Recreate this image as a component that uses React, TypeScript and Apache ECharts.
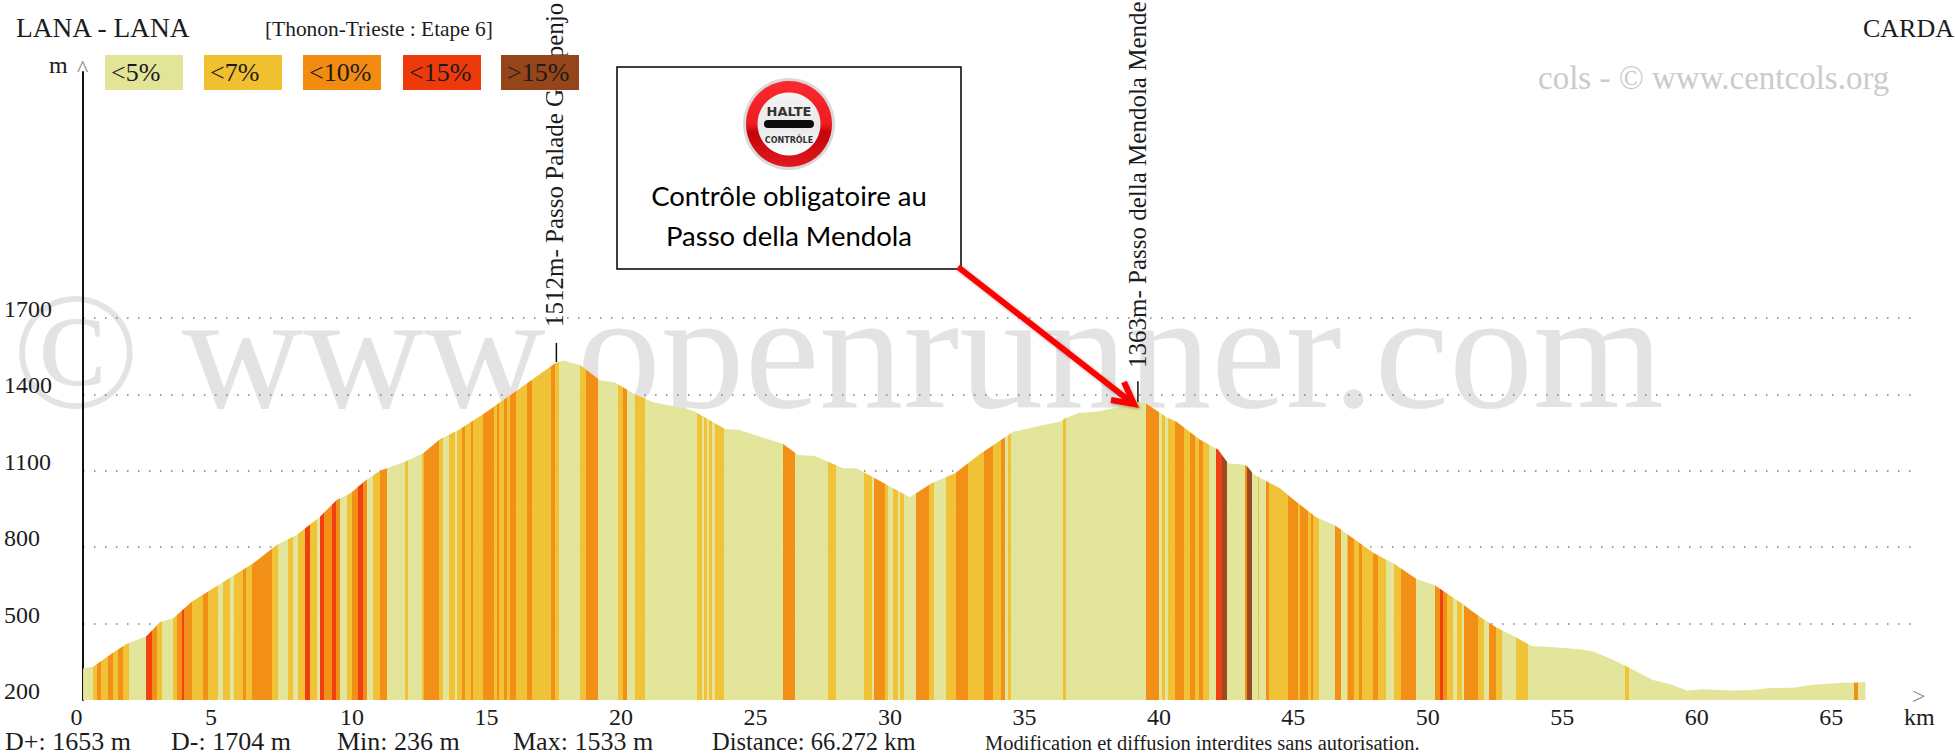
import React, { useEffect, useRef } from "react";
import * as echarts from "echarts";

const distanceKm = [0,0.38,1.07,1.62,2.37,2.86,3.36,4.04,4.84,6.33,7.2,7.94,8.81,9.43,9.93,10.48,11.04,11.97,12.65,13.27,14.01,15.01,16.25,17.55,17.85,18.48,19.22,19.78,20.46,21.2,22.19,22.69,23.87,24.42,26.03,26.59,27.21,28.26,28.76,30.74,31.55,32.42,33.35,34.21,34.58,35.58,36.32,36.51,37.06,37.68,38.55,39.23,39.48,40.29,40.66,41.52,42.2,42.58,42.95,43.26,43.51,44.5,44.99,45.86,46.54,47.1,47.97,48.77,49.58,50.26,51.25,51.93,52.55,53.23,53.85,54.41,55.65,56.14,56.76,57.38,58.37,58.99,59.62,60.23,61.22,62.09,62.71,63.58,64.32,65.44,65.94,66.27];
const elevationM = [324,331,383,420,451,506,521,586,639,737,809,848,920,985,1011,1060,1100,1136,1169,1224,1263,1332,1424,1522,1533,1515,1456,1447,1404,1369,1349,1336,1264,1260,1205,1162,1158,1110,1110,996,1051,1090,1166,1227,1253,1277,1293,1306,1328,1332,1351,1371,1367,1310,1293,1223,1184,1129,1127,1121,1087,1031,988,917,886,844,778,733,675,651,580,527,485,449,412,409,399,390,364,333,279,263,237,242,237,239,247,248,260,268,269,271];

// Start of each gradient stripe (km) and its class (index in gradeLabels)
const stripeStarts = [0,0.38,0.53,0.69,0.94,1.13,1.31,1.5,1.69,2.34,2.55,2.74,2.92,3.33,3.48,3.67,3.77,4.04,4.45,4.66,5.03,5.19,5.46,5.61,5.96,6.08,6.27,7.01,7.26,7.63,7.82,8,8.25,8.44,8.71,8.81,8.97,9.24,9.41,9.55,9.8,9.99,10.24,10.42,10.55,10.79,11.04,11.29,11.97,12.09,12.59,12.68,13.25,13.39,13.6,13.83,13.91,14.08,14.22,14.41,14.49,14.88,15.28,15.4,15.48,15.65,15.77,15.87,16.1,16.52,16.68,17.38,17.55,17.69,18.47,18.7,19.16,19.9,20.09,20.21,20.52,20.89,22.81,23.02,23.08,23.21,23.28,23.39,23.49,23.83,26.01,26.47,27.7,28.01,29.03,29.32,29.41,29.81,29.92,30.12,30.31,30.37,30.52,30.96,31.46,31.63,32.1,32.44,32.91,33.5,33.82,34.13,34.28,34.4,34.5,36.42,36.55,39.52,40.02,40.1,40.23,40.35,40.6,40.93,41.16,41.34,41.49,41.63,41.85,42.12,42.33,42.52,43.2,43.29,43.45,43.67,43.73,43.98,44.11,44.81,45.18,45.24,45.55,45.64,45.74,45.96,46.54,46.79,46.98,47.04,47.25,47.44,47.56,47.97,48.16,48.44,48.74,49.02,49.56,50.26,50.47,50.55,50.7,50.92,51.1,51.28,51.34,51.87,52.08,52.26,52.53,52.74,53.27,53.73,57.34,57.46,65.86,65.98];
const stripeGrades = [0,1,2,1,2,1,2,1,0,3,2,1,0,1,2,3,2,1,2,1,0,1,0,1,2,1,2,1,0,1,0,1,3,1,0,3,2,3,2,0,1,2,3,2,0,1,2,0,1,0,1,2,1,0,1,0,1,2,1,2,1,2,1,2,1,2,1,2,1,2,1,2,1,0,1,2,0,1,2,0,1,0,1,0,1,0,1,0,1,0,2,0,1,0,1,0,2,1,0,1,0,1,0,2,1,0,1,2,1,2,1,2,0,1,0,1,0,2,0,1,0,1,2,1,2,1,2,1,0,3,4,0,2,4,0,1,0,2,1,2,1,2,1,2,1,0,2,0,1,2,1,2,1,2,1,0,1,2,0,2,3,2,1,0,1,0,2,1,0,2,1,0,1,0,1,0,2,0];
const stripeEnd = 66.3;

const gradeLabels = ["<5%", "<7%", "<10%", "<15%", ">15%"];
const gradeColors = ["#E2E498", "#F0C030", "#F28C10", "#EE3A0A", "#96451A"];
const legendLefts = [105, 204, 303, 403, 501];

const yTicks = [200, 500, 800, 1100, 1400, 1700];
const statLabels = ["D+: 1653 m", "D-: 1704 m", "Min: 236 m", "Max: 1533 m", "Distance: 66.272 km"];
const statLefts = [5, 171, 337, 513, 712];
const statSizes = [26, 26, 26, 26, 24.5];
const colNames = ["1512m- Passo Palade Gampenjo", "1363m- Passo della Mendola Mende"];
const colTickKm = [17.6, 39.22];
const colTickBottom = [1527, 1370];
const colTickTop = [1602, 1452];
const colLabelX = [554, 1137];
const colLabelY = [327, 368];

const SERIF = "'Liberation Serif', serif";
const INK = "#1c1c1c";

export default function App() {
  const ref = useRef<HTMLDivElement>(null);
  useEffect(() => {
    document.body.style.margin = "0";
    document.body.style.background = "#fff";
    const chart = echarts.init(ref.current!, null, { renderer: "svg" });

    const pieces = stripeStarts.map((s, i) => ({
      gte: s,
      lt: i + 1 < stripeStarts.length ? stripeStarts[i + 1] : stripeEnd,
      color: gradeColors[stripeGrades[i]],
    }));

    const txt = (text: string, x: number, y: number, size: number, extra: any = {}, z = 50) => ({
      type: "text",
      x,
      y,
      z,
      silent: true,
      style: { text, font: `${size}px ${SERIF}`, fill: INK, textAlign: "left", textVerticalAlign: "middle", ...extra },
    });

    const graphicEls: any[] = [
      txt("© www.openrunner.com", 12, 266, 168, { fill: "#e3e3e3", textVerticalAlign: "top" }, -10),
      txt("cols - © www.centcols.org", 1538, 78, 33, { fill: "#cbcbcb" }, -10),
      txt("LANA - LANA", 16, 28, 27.4),
      txt("[Thonon-Trieste : Etape 6]", 265, 29, 21.4),
      txt("CARDA", 1863, 28, 26),
      txt("m", 49, 65, 24),
      txt("^", 77, 68, 24, { fill: "#888" }),
      txt(">", 1912, 696, 24, { fill: "#888" }),
      txt("km", 1904, 717, 24),
      txt("Modification et diffusion interdites sans autorisation.", 985, 743, 20.5),
      ...statLabels.map((s, i) => txt(s, statLefts[i], 741, statSizes[i])),
      ...colNames.map((s, i) => ({
        ...txt(s, colLabelX[i], colLabelY[i], 25, {}, 40),
        rotation: Math.PI / 2,
      })),
      ...gradeLabels.flatMap((s, i) => [
        { type: "rect", z: 45, silent: true, shape: { x: legendLefts[i], y: 55, width: 78, height: 35 }, style: { fill: gradeColors[i] } },
        txt(s, legendLefts[i] + 6, 72, 26, {}, 46),
      ]),
      // annotation box
      { type: "rect", z: 60, silent: true, shape: { x: 617, y: 67, width: 344, height: 202 }, style: { fill: "#fff", stroke: "#000", lineWidth: 1.5 } },
      { type: "circle", z: 61, silent: true, shape: { cx: 789, cy: 124, r: 46 }, style: { fill: "#d9d9d9" } },
      {
        type: "circle", z: 62, silent: true, shape: { cx: 789, cy: 124, r: 43 },
        style: {
          fill: new echarts.graphic.LinearGradient(0, 0, 0, 1, [
            { offset: 0, color: "#fb2a30" },
            { offset: 0.5, color: "#ee1c22" },
            { offset: 0.6, color: "#c40408" },
            { offset: 1, color: "#e01a20" },
          ]),
        },
      },
      {
        type: "circle", z: 63, silent: true, shape: { cx: 789, cy: 124, r: 31.5 },
        style: {
          fill: new echarts.graphic.LinearGradient(0, 0, 0, 1, [
            { offset: 0, color: "#f4f4f4" },
            { offset: 0.55, color: "#e8e8e8" },
            { offset: 1, color: "#ffffff" },
          ]),
        },
      },
      { type: "text", z: 64, silent: true, x: 789, y: 111, style: { text: "HALTE", font: "bold 13px 'DejaVu Sans', sans-serif", fill: "#333", textAlign: "center", textVerticalAlign: "middle" } },
      { type: "rect", z: 64, silent: true, shape: { x: 764, y: 120, width: 50, height: 8, r: 4 }, style: { fill: "#0c0c0c" } },
      { type: "text", z: 64, silent: true, x: 789, y: 140, style: { text: "CONTRÔLE", font: "bold 8px 'DejaVu Sans', sans-serif", fill: "#333", textAlign: "center", textVerticalAlign: "middle" } },
      { type: "text", z: 64, silent: true, x: 789, y: 195, style: { text: "Contrôle obligatoire au", font: "27.5px Lato, sans-serif", fill: "#000", textAlign: "center", textVerticalAlign: "middle" } },
      { type: "text", z: 64, silent: true, x: 789, y: 235, style: { text: "Passo della Mendola", font: "27.5px Lato, sans-serif", fill: "#000", textAlign: "center", textVerticalAlign: "middle" } },
      // arrow
      { type: "line", z: 70, silent: true, shape: { x1: 958, y1: 267, x2: 1131, y2: 402 }, style: { stroke: "#ff0000", lineWidth: 6, shadowBlur: 3, shadowColor: "rgba(0,0,0,0.35)", shadowOffsetX: 1, shadowOffsetY: 1 } },
      { type: "polyline", z: 70, silent: true, shape: { points: [[1111, 400], [1134, 404], [1124, 382]] }, style: { stroke: "#ff0000", fill: "none", lineWidth: 6, lineJoin: "miter", shadowBlur: 3, shadowColor: "rgba(0,0,0,0.35)", shadowOffsetX: 1, shadowOffsetY: 1 } },
    ];

    const colSeries = colTickKm.map((km, i) => ({
      type: "line",
      silent: true,
      z: 5,
      showSymbol: false,
      symbol: "none",
      lineStyle: { color: "#111", width: 1.5 },
      data: [[km, colTickBottom[i]], [km, colTickTop[i]]],
    }));

    chart.setOption({
      animation: false,
      backgroundColor: "#fff",
      textStyle: { fontFamily: SERIF },
      grid: { left: 83, top: 72, width: 1829, height: 628, containLabel: false },
      xAxis: {
        type: "value",
        min: 0,
        max: 68,
        interval: 5,
        splitLine: { show: false },
        axisTick: { show: false },
        axisLine: {
          onZero: false,
          lineStyle: { color: "#111", width: 2, shadowColor: "rgba(0,0,0,0.35)", shadowBlur: 1, shadowOffsetY: 1.5 },
        },
        axisLabel: {
          color: INK,
          fontSize: 24,
          fontFamily: SERIF,
          margin: 5,
          showMaxLabel: false,
          hideOverlap: false,
          formatter: (v: number) => (v < 10 ? `{s|${v}}` : `${v}`),
          rich: { s: { fontSize: 24, fontFamily: SERIF, color: INK, padding: [0, 13, 0, 0] } },
        },
      },
      yAxis: {
        type: "value",
        min: 200,
        max: 2666,
        axisTick: { show: false, customValues: yTicks },
        axisLine: { show: true, onZero: false, lineStyle: { color: "#111", width: 2 } },
        axisLabel: {
          customValues: yTicks,
          formatter: (v: number) => String(v),
          color: INK,
          fontSize: 24,
          lineHeight: 18,
          fontFamily: SERIF,
          margin: 79,
          align: "left",
          verticalAlign: "bottom",
        },
        splitLine: {
          show: true,
          showMinLine: false,
          lineStyle: { color: "#808080", width: 1.5, type: [1.5, 9.5] },
        },
      },
      visualMap: {
        show: false,
        type: "piecewise",
        seriesIndex: 0,
        dimension: 0,
        pieces,
      },
      series: [
        {
          type: "line",
          silent: true,
          z: 3,
          showSymbol: false,
          symbol: "none",
          smooth: false,
          lineStyle: { width: 0 },
          areaStyle: { opacity: 0.97, origin: "start" },
          data: distanceKm.map((d, i) => [d, elevationM[i]]),
        },
        ...colSeries,
      ],
      graphic: { elements: graphicEls },
    });
    return () => chart.dispose();
  }, []);
  return <div ref={ref} style={{ position: "absolute", left: 0, top: 0, width: 1955, height: 755 }} />;
}
